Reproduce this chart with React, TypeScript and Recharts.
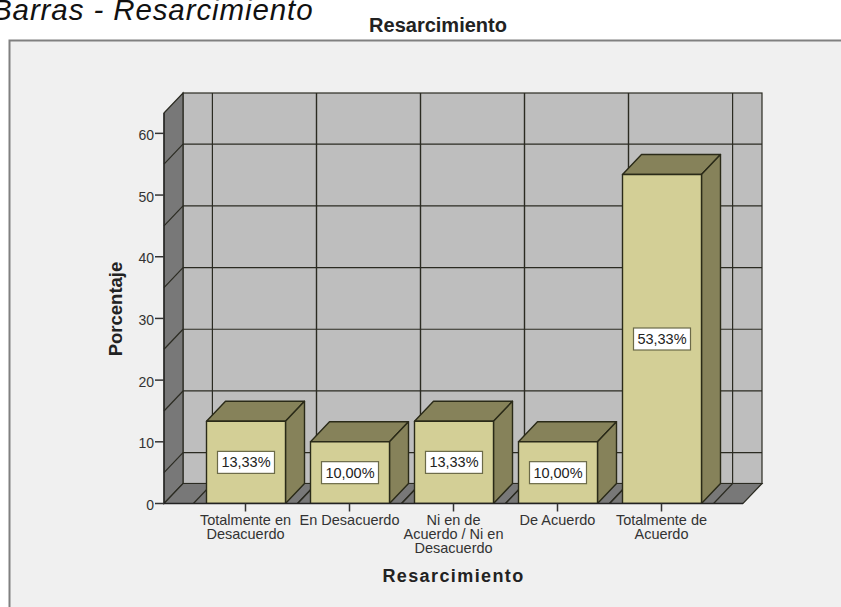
import { BarChart, Bar, XAxis, YAxis, CartesianGrid, LabelList, usePlotArea } from "recharts";

const categories = [
  "Totalmente en|Desacuerdo",
  "En Desacuerdo",
  "Ni en de|Acuerdo / Ni en|Desacuerdo",
  "De Acuerdo",
  "Totalmente de|Acuerdo",
];
const percentages = [13.33, 10.0, 13.33, 10.0, 53.33];
const yTicks = [0, 10, 20, 30, 40, 50, 60];
const gridValues = [5, 15, 25, 35, 45, 55];

const data = categories.map((name, i) => ({ name, value: percentages[i] }));

const DX = 19;
const DY = 20;
const BAND = 104.2;
const EDGE = "#2b2b22";
const FONT = "'Liberation Sans', Arial, sans-serif";

// background panel, side wall and floor of the 3D box
const Walls = () => {
  const plot = usePlotArea();
  if (!plot) return null;
  const { x, y, width, height } = plot;
  const b = y + height;
  const r = x + width;
  return (
    <g>
      <rect x={0} y={0} width={841} height={607} fill="#ffffff" />
      <rect x={9.5} y={40.5} width={840} height={580} fill="#f0f0f0" stroke="#808080" strokeWidth={2} />
      <rect x={x + DX} y={y - DY} width={width} height={height} fill="#bebebe" stroke={EDGE} strokeWidth={1.2} />
      <polygon
        points={`${x},${y} ${x + DX},${y - DY} ${x + DX},${b - DY} ${x},${b}`}
        fill="#787878"
        stroke={EDGE}
        strokeWidth={1.2}
      />
      <polygon
        points={`${x},${b} ${x + DX},${b - DY} ${r + DX},${b - DY} ${r},${b}`}
        fill="#787878"
        stroke={EDGE}
        strokeWidth={1.2}
      />
    </g>
  );
};

const GridH = (p: any) => (
  <g key={p.key}>
    <line x1={p.x1 + DX} x2={p.x2 + DX} y1={p.y1 - DY} y2={p.y1 - DY} stroke={EDGE} strokeWidth={1.2} />
    <line x1={p.x1} x2={p.x1 + DX} y1={p.y1} y2={p.y1 - DY} stroke={EDGE} strokeWidth={1.2} />
  </g>
);

const GridV = (p: any) => {
  const lefts = [p.x1 - BAND / 2, p.x1 + BAND / 2];
  return (
    <g key={p.key}>
      {lefts.map((lx) => (
        <g key={lx}>
          <line x1={lx + DX} x2={lx + DX} y1={p.y1 - DY} y2={p.y2 - DY} stroke={EDGE} strokeWidth={1.2} />
          <line x1={lx} x2={lx + DX} y1={p.y2} y2={p.y2 - DY} stroke={EDGE} strokeWidth={1.2} />
        </g>
      ))}
    </g>
  );
};

const Box = ({ x, y, width, height }: any) => {
  const r = x + width;
  const b = y + height;
  return (
    <g stroke="#2a2a18" strokeWidth={1.4} strokeLinejoin="round">
      <polygon points={`${x},${y} ${x + DX},${y - DY} ${r + DX},${y - DY} ${r},${y}`} fill="#86825a" />
      <polygon points={`${r},${y} ${r + DX},${y - DY} ${r + DX},${b - DY} ${r},${b}`} fill="#86825a" />
      <rect x={x} y={y} width={width} height={height} fill="#d3cf96" />
    </g>
  );
};

const ValueTag = ({ x, y, width, height, value }: any) => {
  const cx = x + width / 2;
  const cy = y + height / 2;
  return (
    <g>
      <rect x={cx - 28.5} y={cy - 11} width={57} height={22} fill="#ffffff" stroke="#6b6a48" strokeWidth={1.2} />
      <text x={cx} y={cy + 5} textAnchor="middle" fontFamily={FONT} fontSize={14.5} fill="#222222">
        {value.toFixed(2).replace(".", ",")}%
      </text>
    </g>
  );
};

const CategoryTick = ({ x, y, payload }: any) => (
  <text textAnchor="middle" fontFamily={FONT} fontSize={14.5} fill="#333333">
    {payload.value.split("|").map((line: string, i: number) => (
      <tspan key={i} x={x} y={y + 11 + i * 14}>
        {line}
      </tspan>
    ))}
  </text>
);

const App = () => (
  <div style={{ position: "absolute", left: 0, top: 0, width: 841, height: 607 }}>
    <BarChart
      width={841}
      height={607}
      data={data}
      barSize={79}
      margin={{ top: 113, right: 98, left: 4, bottom: 13.5 }}
    >
      <Walls />
      <CartesianGrid
        zIndex={1}
        horizontalValues={gridValues}
        verticalValues={categories}
        horizontal={GridH}
        vertical={GridV}
      />
      <XAxis
        dataKey="name"
        height={90}
        interval={0}
        padding={{ left: 29.5, right: 29.5 }}
        axisLine={{ stroke: "#222222", strokeWidth: 1.5 }}
        tickLine={{ stroke: "#333333", strokeWidth: 1.5 }}
        tickSize={8}
        tick={<CategoryTick />}
      />
      <YAxis
        width={160}
        domain={[0, 63.3]}
        ticks={yTicks}
        allowDataOverflow
        axisLine={{ stroke: "#222222", strokeWidth: 1.2 }}
        tickLine={{ stroke: "#333333", strokeWidth: 1.5 }}
        tickSize={9}
        tickMargin={1}
        tick={{ fontFamily: FONT, fontSize: 14, fill: "#333333", dy: 1.5 }}
      />
      <Bar dataKey="value" shape={<Box />} isAnimationActive={false}>
        <LabelList dataKey="value" content={<ValueTag />} />
      </Bar>
      <text x={-8} y={20} fontFamily={FONT} fontStyle="italic" fontSize={29.5} letterSpacing={0.9} fill="#111111">
        Barras - Resarcimiento
      </text>
      <text x={438} y={32} textAnchor="middle" fontFamily={FONT} fontWeight="bold" fontSize={20} fill="#222222">
        Resarcimiento
      </text>
      <text
        x={453.5}
        y={582}
        textAnchor="middle"
        fontFamily={FONT}
        fontWeight="bold"
        fontSize={18}
        letterSpacing={1.4}
        fill="#222222"
      >
        Resarcimiento
      </text>
      <text
        x={122}
        y={309}
        transform="rotate(-90 122 309)"
        textAnchor="middle"
        fontFamily={FONT}
        fontWeight="bold"
        fontSize={18.5}
        fill="#222222"
      >
        Porcentaje
      </text>
    </BarChart>
  </div>
);

export default App;
